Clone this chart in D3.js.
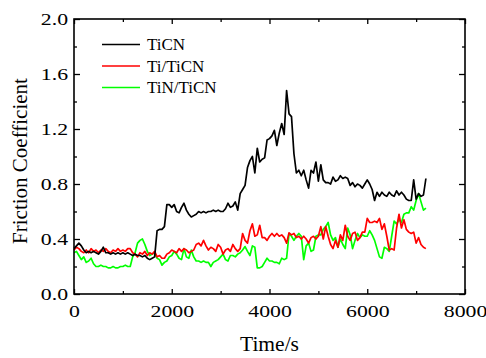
<!DOCTYPE html>
<html>
<head>
<meta charset="utf-8">
<script src="https://cdn.jsdelivr.net/npm/d3@7"></script>
<style>
  body { margin: 0; background: #fff; }
  svg text { font-family: "Liberation Serif", "DejaVu Serif", serif; }
</style>
</head>
<body>
<svg id="chart"></svg>
<script>
// Friction coefficient vs time, sampled every 50 s
var sampleStep = 50;
var seriesNames = ['TiCN', 'Ti/TiCN', 'TiN/TiCN'];
var seriesColors = ['#000000', '#ff0000', '#00ff00'];

var ticn = [
  0.33,0.35,0.37,0.35,0.32,0.30,0.31,0.30,0.31,0.30,0.29,0.31,0.34,0.30,0.30,0.29,0.30,0.29,0.30,0.29,
  0.30,0.29,0.30,0.29,0.28,0.29,0.28,0.28,0.27,0.28,0.26,0.25,0.26,0.27,0.46,0.47,0.47,0.49,0.65,0.65,
  0.63,0.65,0.60,0.59,0.63,0.66,0.61,0.58,0.56,0.57,0.58,0.60,0.59,0.60,0.59,0.60,0.60,0.61,0.60,0.61,
  0.60,0.60,0.62,0.66,0.63,0.64,0.67,0.61,0.73,0.76,0.79,0.92,0.97,1.00,0.88,1.06,0.96,0.98,0.99,1.12,
  1.13,1.15,1.19,1.08,1.17,1.24,1.16,1.48,1.31,1.29,1.02,0.88,0.90,0.86,0.90,0.83,0.77,0.90,0.88,0.96,
  0.82,0.94,0.83,0.81,0.81,0.80,0.85,0.82,0.83,0.86,0.84,0.85,0.84,0.79,0.81,0.78,0.80,0.79,0.77,0.80,
  0.83,0.80,0.76,0.68,0.74,0.71,0.74,0.72,0.71,0.74,0.72,0.71,0.75,0.72,0.74,0.72,0.69,0.68,0.68,0.83,
  0.69,0.73,0.71,0.72,0.84
];
var tiTicn = [
  0.32,0.34,0.33,0.31,0.30,0.32,0.30,0.33,0.31,0.32,0.30,0.32,0.31,0.33,0.31,0.30,0.32,0.31,0.33,0.31,
  0.32,0.31,0.33,0.33,0.30,0.29,0.27,0.30,0.29,0.31,0.28,0.30,0.29,0.31,0.27,0.28,0.26,0.26,0.29,0.30,
  0.32,0.31,0.30,0.33,0.31,0.33,0.32,0.30,0.31,0.32,0.36,0.37,0.35,0.39,0.35,0.32,0.34,0.33,0.31,0.36,
  0.34,0.29,0.32,0.33,0.31,0.36,0.33,0.31,0.33,0.44,0.39,0.37,0.46,0.51,0.42,0.43,0.50,0.41,0.41,0.39,
  0.42,0.44,0.42,0.44,0.42,0.43,0.41,0.37,0.445,0.43,0.44,0.41,0.42,0.40,0.42,0.40,0.37,0.41,0.42,0.40,
  0.42,0.49,0.40,0.49,0.42,0.36,0.33,0.39,0.34,0.43,0.39,0.50,0.42,0.39,0.44,0.45,0.39,0.41,0.45,0.45,
  0.55,0.52,0.52,0.53,0.52,0.55,0.47,0.51,0.42,0.32,0.33,0.32,0.48,0.58,0.48,0.54,0.47,0.45,0.44,0.45,
  0.37,0.41,0.36,0.34,0.33
];
var tinTicn = [
  0.30,0.31,0.28,0.25,0.27,0.23,0.24,0.26,0.22,0.20,0.20,0.21,0.20,0.20,0.19,0.19,0.20,0.19,0.19,0.20,
  0.20,0.21,0.20,0.20,0.27,0.30,0.37,0.39,0.40,0.36,0.31,0.28,0.29,0.30,0.26,0.25,0.21,0.23,0.24,0.27,
  0.28,0.31,0.29,0.26,0.25,0.33,0.27,0.26,0.32,0.27,0.24,0.24,0.23,0.24,0.23,0.23,0.20,0.23,0.24,0.25,
  0.27,0.29,0.25,0.24,0.28,0.28,0.27,0.29,0.30,0.32,0.345,0.31,0.28,0.35,0.34,0.19,0.19,0.20,0.23,0.26,
  0.24,0.24,0.23,0.23,0.22,0.26,0.25,0.26,0.44,0.42,0.39,0.42,0.44,0.42,0.25,0.35,0.37,0.31,0.32,0.42,
  0.43,0.43,0.47,0.49,0.52,0.43,0.39,0.41,0.34,0.40,0.36,0.33,0.48,0.43,0.33,0.39,0.44,0.41,0.43,0.42,
  0.42,0.46,0.43,0.39,0.33,0.27,0.26,0.34,0.33,0.31,0.42,0.53,0.51,0.54,0.52,0.58,0.59,0.59,0.635,0.61,
  0.68,0.73,0.67,0.61,0.625
];

var xMajorTicks = [0, 2000, 4000, 6000, 8000];
var xMinorTicks = [1000, 3000, 5000, 7000];
var yMajorTicks = [0, 0.4, 0.8, 1.2, 1.6, 2.0];
var yMinorTicks = [0.2, 0.6, 1.0, 1.4, 1.8];

var svgWidth = 486, svgHeight = 358;
var margin = { top: 19, right: 21, bottom: 64, left: 74 };
var width = svgWidth - margin.left - margin.right;
var height = svgHeight - margin.top - margin.bottom;

var svg = d3.select('#chart')
    .attr('width', svgWidth)
    .attr('height', svgHeight);

var g = svg.append('g')
    .attr('transform', 'translate(' + margin.left + ',' + margin.top + ')');

var x = d3.scaleLinear().domain([0, 8000]).range([0, width]);
var y = d3.scaleLinear().domain([0, 2.0]).range([height, 0]);

// lines
var allSeries = [ticn, tiTicn, tinTicn];
var line = d3.line()
    .x(function(d, i) { return x(i * sampleStep); })
    .y(function(d) { return y(d); });

// draw green first, black last
[2, 1, 0].forEach(function(k) {
    g.append('path')
        .datum(allSeries[k])
        .attr('fill', 'none')
        .attr('stroke', seriesColors[k])
        .attr('stroke-width', 1.7)
        .attr('stroke-linejoin', 'round')
        .attr('d', line);
});

// axes, ticks pointing inward on all four sides
function styleAxis(sel) {
    sel.attr('font-family', null).attr('font-size', null);
    sel.select('.domain').remove();
    sel.selectAll('line').attr('stroke', '#000').attr('stroke-width', 1.3);
    sel.selectAll('text').attr('fill', '#000').style('font-size', '17px');
}

// tick digits in the original are drawn a bit wider than plain Times
function widenLabels(sel) {
    sel.selectAll('text').each(function() {
        var w = this.getComputedTextLength();
        d3.select(this)
            .attr('textLength', w * 1.28)
            .attr('lengthAdjust', 'spacingAndGlyphs');
    });
}

g.append('g').attr('transform', 'translate(0,' + height + ')')
    .call(d3.axisBottom(x).tickValues(xMajorTicks).tickSize(-5).tickPadding(11).tickFormat(d3.format('d')))
    .call(styleAxis)
    .call(widenLabels);
g.append('g').attr('transform', 'translate(0,' + height + ')')
    .call(d3.axisBottom(x).tickValues(xMinorTicks).tickSize(-3).tickFormat(''))
    .call(styleAxis);
g.append('g')
    .call(d3.axisTop(x).tickValues(xMajorTicks).tickSize(-5).tickFormat(''))
    .call(styleAxis);
g.append('g')
    .call(d3.axisTop(x).tickValues(xMinorTicks).tickSize(-3).tickFormat(''))
    .call(styleAxis);

g.append('g')
    .call(d3.axisLeft(y).tickValues(yMajorTicks).tickSize(-6).tickPadding(6).tickFormat(d3.format('.1f')))
    .call(styleAxis)
    .call(widenLabels);
g.append('g')
    .call(d3.axisLeft(y).tickValues(yMinorTicks).tickSize(-3).tickFormat(''))
    .call(styleAxis);
g.append('g').attr('transform', 'translate(' + width + ',0)')
    .call(d3.axisRight(y).tickValues(yMajorTicks).tickSize(-6).tickFormat(''))
    .call(styleAxis);
g.append('g').attr('transform', 'translate(' + width + ',0)')
    .call(d3.axisRight(y).tickValues(yMinorTicks).tickSize(-3).tickFormat(''))
    .call(styleAxis);

// frame
g.append('rect')
    .attr('width', width)
    .attr('height', height)
    .attr('fill', 'none')
    .attr('stroke', '#000')
    .attr('stroke-width', 1.6);

// axis titles
svg.append('text')
    .attr('x', margin.left + width / 2)
    .attr('y', 351)
    .attr('text-anchor', 'middle')
    .style('font-size', '21.5px')
    .text('Time/s');

svg.append('text')
    .attr('transform', 'translate(26.5,161) rotate(-90)')
    .attr('text-anchor', 'middle')
    .style('font-size', '21px')
    .text('Friction Coefficient');

// legend
var legend = svg.append('g').attr('transform', 'translate(102,44.5)');
seriesNames.forEach(function(name, i) {
    var row = legend.append('g').attr('transform', 'translate(0,' + (i * 21.5) + ')');
    row.append('line')
        .attr('x1', 0).attr('x2', 38)
        .attr('stroke', seriesColors[i])
        .attr('stroke-width', 1.5);
    row.append('text')
        .attr('x', 45)
        .attr('dy', '0.35em')
        .style('font-size', '17px')
        .text(name);
});
</script>
</body>
</html>
